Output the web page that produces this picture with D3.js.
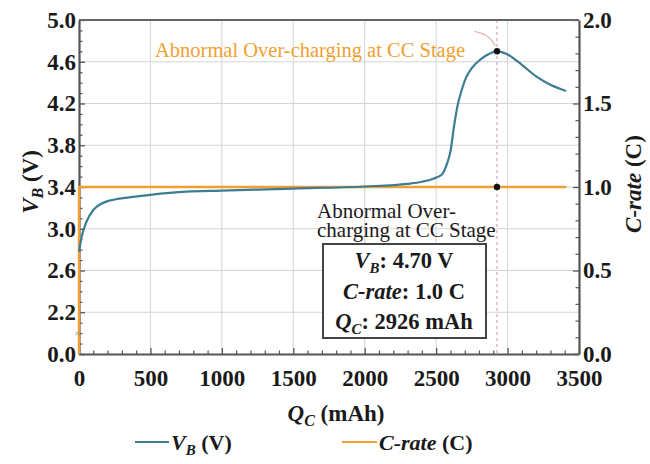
<!DOCTYPE html>
<html>
<head>
<meta charset="utf-8">
<script src="https://cdn.jsdelivr.net/npm/d3@7/dist/d3.min.js"></script>
<style>
  html, body { margin: 0; padding: 0; background: #fff; }
  svg { display: block; }
  svg text { font-family: "Liberation Serif", "DejaVu Serif", serif; }
</style>
</head>
<body>
<svg id="chart" width="650" height="464"></svg>
<script>
// Charged capacity (mAh) and battery voltage (V) along the CC charge
const qValues = [0, 20, 50, 100, 150, 200, 250, 350, 500, 750, 1000, 1500, 2000, 2300, 2400,
  2480, 2540, 2575, 2600, 2625, 2650, 2675, 2710, 2750, 2800, 2850, 2926, 3000, 3100, 3200, 3300, 3410];
const vValues = [2.78, 2.93, 3.06, 3.18, 3.235, 3.265, 3.28, 3.30, 3.325, 3.355, 3.365, 3.385, 3.405, 3.43, 3.45,
  3.48, 3.52, 3.62, 3.74, 3.98, 4.18, 4.31, 4.45, 4.54, 4.61, 4.66, 4.70, 4.67, 4.57, 4.46, 4.38, 4.32];

// C-rate profile (steps to 1.0 C at the start)
const cQ = [0, 0, 3410];
const cRate = [0, 1.0, 1.0];

// Axis ticks
const xTicks = [0, 500, 1000, 1500, 2000, 2500, 3000, 3500];
const vTicks = [0, 2.2, 2.6, 3.0, 3.4, 3.8, 4.2, 4.6, 5.0];
const vTickLabels = ["0.0", "2.2", "2.6", "3.0", "3.4", "3.8", "4.2", "4.6", "5.0"];
const cTicks = [0, 0.5, 1.0, 1.5, 2.0];
const cTickLabels = ["0.0", "0.5", "1.0", "1.5", "2.0"];

// Marked over-charging point
const peakQ = 2926, peakV = 4.70, peakC = 1.0;

const svg = d3.select("#chart");
const L = 79, R = 579, T = 20, B = 354;
const blue = "#3d7c93", orange = "#f0a032", axisCol = "#555", ink = "#1a1a1a";

const x = d3.scaleLinear().domain([0, 3500]).range([L, R]);
// broken voltage axis: 0 .. 2.2 squeezed into one tick interval
const yV = d3.scaleLinear().domain([0, 2.2, 5.0]).range([B, B - (B - T) / 8, T]);
const yC = d3.scaleLinear().domain([0, 2.0]).range([B, T]);

// grid
const grid = svg.append("g").attr("stroke", "#d4d4d4").attr("stroke-width", 1);
grid.selectAll("line.h").data(vTicks.filter(v => v > 0 && v < 5)).join("line")
  .attr("x1", L).attr("x2", R).attr("y1", d => yV(d)).attr("y2", d => yV(d));
grid.selectAll("line.v").data(xTicks.filter(v => v > 0 && v < 3500)).join("line")
  .attr("y1", T).attr("y2", B).attr("x1", d => x(d)).attr("x2", d => x(d));

// dashed marker at peak capacity
svg.append("line").attr("x1", x(peakQ)).attr("x2", x(peakQ)).attr("y1", T).attr("y2", B)
  .attr("stroke", "#d9a8b0").attr("stroke-width", 1.2).attr("stroke-dasharray", "3,3");

// axes
function styleAxis(g) {
  g.attr("font-family", null);
  g.select(".domain").attr("stroke", axisCol).attr("stroke-width", 2.2);
  g.selectAll(".tick line").attr("stroke", axisCol).attr("stroke-width", 1.3);
  g.selectAll("text").attr("fill", ink).attr("font-weight", "bold").attr("font-size", 23);
}
function minorStyle(g) {
  g.select(".domain").remove();
  g.selectAll(".tick line").attr("stroke", axisCol).attr("stroke-width", 1.2);
}

const xMinor = d3.range(0, 3501, 100).filter(v => v % 500 !== 0);
svg.append("g").attr("transform", `translate(0,${B})`)
  .call(d3.axisBottom(x).tickValues(xMinor).tickSize(-3.5).tickFormat(""))
  .call(minorStyle);
svg.append("g").attr("transform", `translate(0,${B})`)
  .call(d3.axisBottom(x).tickValues(xTicks).tickSizeInner(-6).tickSizeOuter(0).tickPadding(11).tickFormat(d3.format("d")))
  .call(styleAxis)
  .call(g => g.selectAll("text").attr("dy", "0.9em"));

// voltage minor ticks: every 0.1 V above the break, evenly spaced below it
const vMinor = d3.range(2.2, 5.0001, 0.1).map(v => +v.toFixed(2)).filter(v => !vTicks.includes(v))
  .concat([0.55, 1.1, 1.65]);
svg.append("g").attr("transform", `translate(${L},0)`)
  .call(d3.axisLeft(yV).tickValues(vMinor).tickSize(-3.5).tickFormat(""))
  .call(minorStyle);
svg.append("g").attr("transform", `translate(${L},0)`)
  .call(d3.axisLeft(yV).tickValues(vTicks).tickSizeInner(-6).tickSizeOuter(0).tickPadding(3)
    .tickFormat((d, i) => vTickLabels[i]))
  .call(styleAxis);

const cMinor = d3.range(0, 2.0001, 0.1).map(v => +v.toFixed(2)).filter(v => !cTicks.includes(v));
svg.append("g").attr("transform", `translate(${R},0)`)
  .call(d3.axisRight(yC).tickValues(cMinor).tickSize(-3.5).tickFormat(""))
  .call(minorStyle);
svg.append("g").attr("transform", `translate(${R},0)`)
  .call(d3.axisRight(yC).tickValues(cTicks).tickSizeInner(-6).tickSizeOuter(0).tickPadding(4)
    .tickFormat((d, i) => cTickLabels[i]))
  .call(styleAxis);

// top frame
svg.append("line").attr("x1", L).attr("x2", R).attr("y1", T).attr("y2", T)
  .attr("stroke", "#666").attr("stroke-width", 2.2);

// series, drawn over the axis lines
const lineC = d3.line().x((d, i) => x(cQ[i])).y(d => yC(d));
svg.append("path").datum(cRate).attr("d", lineC)
  .attr("fill", "none").attr("stroke", orange).attr("stroke-width", 2.4);

const lineV = d3.line().x((d, i) => x(qValues[i])).y(d => yV(d)).curve(d3.curveMonotoneX);
svg.append("path").datum(vValues).attr("d", lineV)
  .attr("fill", "none").attr("stroke", blue).attr("stroke-width", 2.2);

// break mark on the voltage axis
svg.append("text").attr("x", L - 1).attr("y", B - 17).attr("font-size", 10).attr("fill", "#888")
  .attr("text-anchor", "middle").text("≈");

// markers
svg.append("circle").attr("cx", x(peakQ)).attr("cy", yV(peakV)).attr("r", 3.2).attr("fill", "#111");
svg.append("circle").attr("cx", x(peakQ)).attr("cy", yC(peakC)).attr("r", 3.2).attr("fill", "#111");

// axis titles
const xt = svg.append("text").attr("x", 336).attr("y", 421).attr("text-anchor", "middle")
  .attr("font-size", 23).attr("font-weight", "bold").attr("fill", ink);
xt.append("tspan").attr("font-style", "italic").text("Q");
xt.append("tspan").attr("font-style", "italic").attr("font-size", 16).attr("dy", 5).text("C");
xt.append("tspan").attr("dy", -5).text(" (mAh)");

const yt = svg.append("text").attr("transform", "translate(38,182) rotate(-90)").attr("text-anchor", "middle")
  .attr("font-size", 23).attr("font-weight", "bold").attr("fill", ink);
yt.append("tspan").attr("font-style", "italic").text("V");
yt.append("tspan").attr("font-style", "italic").attr("font-size", 16).attr("dy", 5).text("B");
yt.append("tspan").attr("dy", -5).text(" (V)");

const ct = svg.append("text").attr("transform", "translate(641,184) rotate(-90)").attr("text-anchor", "middle")
  .attr("font-size", 23).attr("font-weight", "bold").attr("fill", ink);
ct.append("tspan").attr("font-style", "italic").text("C-rate");
ct.append("tspan").text(" (C)");

// top annotation with pointer to the peak
svg.append("text").attr("x", 155).attr("y", 57).attr("font-size", 20.5).attr("fill", "#f0a032")
  .text("Abnormal Over-charging at CC Stage");
svg.append("path").attr("d", `M${x(peakQ) - 23},${yV(peakV) - 20} Q${x(peakQ) - 6},${yV(peakV) - 17} ${x(peakQ) - 2},${yV(peakV) - 5}`)
  .attr("fill", "none").attr("stroke", "#e8b4b8").attr("stroke-width", 1.3);

// lower annotation
const ann = svg.append("text").attr("font-size", 21).attr("fill", ink);
ann.append("tspan").attr("x", 317).attr("y", 218).text("Abnormal Over-");
ann.append("tspan").attr("x", 317).attr("y", 237).text("charging at CC Stage");

svg.append("rect").attr("x", 323).attr("y", 244).attr("width", 163).attr("height", 94)
  .attr("fill", "#fff").attr("stroke", "#444").attr("stroke-width", 2);

const boxLines = [
  [["V", "italic"], ["B", "sub"], [": " + peakV.toFixed(2) + " V", ""]],
  [["C-rate", "italic"], [": " + peakC.toFixed(1) + " C", ""]],
  [["Q", "italic"], ["C", "sub"], [": " + peakQ + " mAh", ""]]
];
boxLines.forEach((parts, i) => {
  const t = svg.append("text").attr("x", 404).attr("y", 268 + i * 30.5).attr("text-anchor", "middle")
    .attr("font-size", 22.5).attr("font-weight", "bold").attr("fill", ink);
  let shifted = false;
  parts.forEach(([s, kind]) => {
    const sp = t.append("tspan").text(s);
    if (kind === "italic") sp.attr("font-style", "italic");
    if (kind === "sub") { sp.attr("font-style", "italic").attr("font-size", 15).attr("dy", 5); shifted = true; }
    else if (shifted) { sp.attr("dy", -5); shifted = false; }
  });
});

// legend
const lg = svg.append("g").attr("font-size", 22).attr("font-weight", "bold").attr("fill", ink);
lg.append("line").attr("x1", 135).attr("x2", 169).attr("y1", 442).attr("y2", 442).attr("stroke", blue).attr("stroke-width", 2.2);
const l1 = lg.append("text").attr("x", 171).attr("y", 450);
l1.append("tspan").attr("font-style", "italic").text("V");
l1.append("tspan").attr("font-style", "italic").attr("font-size", 15).attr("dy", 5).text("B");
l1.append("tspan").attr("dy", -5).text(" (V)");
lg.append("line").attr("x1", 342).attr("x2", 377).attr("y1", 442).attr("y2", 442).attr("stroke", orange).attr("stroke-width", 2.2);
const l2 = lg.append("text").attr("x", 379).attr("y", 450);
l2.append("tspan").attr("font-style", "italic").text("C-rate");
l2.append("tspan").text(" (C)");
</script>
</body>
</html>
